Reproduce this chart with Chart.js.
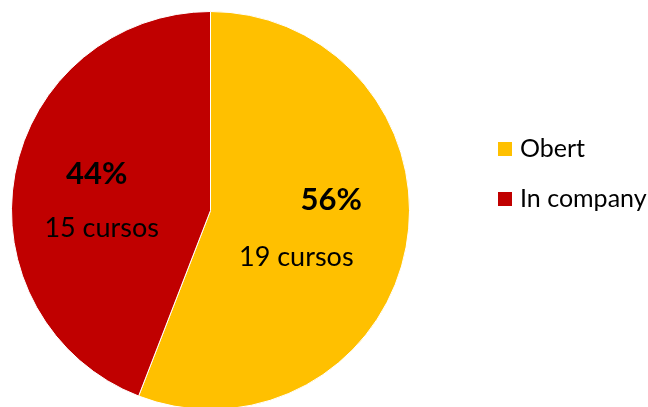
<!DOCTYPE html>
<html>
<head>
<meta charset="utf-8">
<script src="https://cdn.jsdelivr.net/npm/chart.js@4"></script>
<style>
  html, body { margin: 0; padding: 0; background: #fff; overflow: hidden; }
  #wrap { position: relative; width: 648px; height: 421px; }
</style>
</head>
<body>
<div id="wrap"><canvas id="pieChart"></canvas></div>
<script>
// Data
const categories = ['Obert', 'In company'];
const courseCounts = [19, 15];
const sliceColors = ['#FFC000', '#C00000'];
const countSuffix = ' cursos';

const FONT = 'Lato, "Open Sans", sans-serif';

// percent + count labels, nudged from each slice's mid point like the original
const labelOffsets = [
    { pct: [23, -29], count: [-12, 29] },
    { pct: [-16, -18], count: [-11, 36] }
];

const sliceLabels = {
    id: 'sliceLabels',
    afterDatasetsDraw(chart) {
        const ctx = chart.ctx;
        const meta = chart.getDatasetMeta(0);
        const values = chart.data.datasets[0].data;
        const total = values.reduce((a, b) => a + b, 0);
        ctx.save();
        ctx.fillStyle = '#000';
        ctx.textAlign = 'center';
        ctx.textBaseline = 'middle';
        meta.data.forEach((arc, i) => {
            const p = arc.tooltipPosition();
            const off = labelOffsets[i];
            ctx.font = 'bold 31px ' + FONT;
            ctx.fillText(Math.round(values[i] / total * 100) + '%', p.x + off.pct[0], p.y + off.pct[1]);
            ctx.font = '27px ' + FONT;
            ctx.fillText(values[i] + countSuffix, p.x + off.count[0], p.y + off.count[1]);
        });
        ctx.restore();
    }
};

// legend on the right, drawn from the same arrays
const sideLegend = {
    id: 'sideLegend',
    afterDraw(chart) {
        const ctx = chart.ctx;
        ctx.save();
        ctx.font = '25px ' + FONT;
        ctx.textBaseline = 'middle';
        ctx.textAlign = 'left';
        chart.data.labels.forEach((label, i) => {
            const y = 149 + i * 50;
            ctx.fillStyle = chart.data.datasets[0].backgroundColor[i];
            ctx.fillRect(498, y - 7, 14, 14);
            ctx.fillStyle = '#000';
            ctx.fillText(label, 520, y);
        });
        ctx.restore();
    }
};

new Chart(document.getElementById('pieChart'), {
    type: 'pie',
    data: {
        labels: categories,
        datasets: [{
            data: courseCounts,
            backgroundColor: sliceColors,
            borderColor: '#ffffff',
            borderWidth: 1
        }]
    },
    options: {
        responsive: true,
        maintainAspectRatio: false,
        animation: false,
        layout: { padding: { left: 11, top: 11, right: 238, bottom: 11 } },
        plugins: {
            legend: { display: false },
            tooltip: { enabled: false }
        }
    },
    plugins: [sliceLabels, sideLegend]
});
</script>
</body>
</html>
